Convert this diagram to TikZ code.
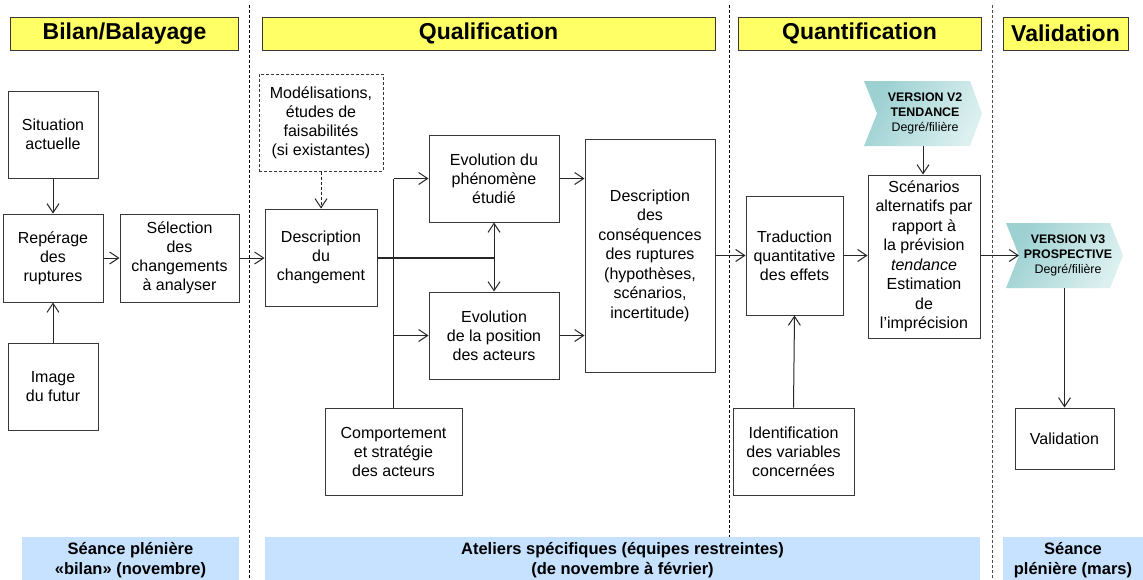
\documentclass[tikz,border=0pt]{standalone}
\usepackage{fontspec}
\setmainfont{Liberation Sans}
\usetikzlibrary{arrows.meta,calc}
\definecolor{hdryellow}{HTML}{FFFF66}
\definecolor{barblue}{HTML}{C6E2FF}
\definecolor{edgegray}{HTML}{383838}
\definecolor{chevteal}{HTML}{9CD0D1}
\definecolor{chevlight}{HTML}{DCF0F0}
\begin{document}
\begin{tikzpicture}[x=1pt,y=-1pt,
  every node/.style={font=\fontsize{16}{19}\selectfont, align=center, inner sep=0pt},
  box/.style={draw=edgegray, line width=1pt, fill=white},
  dbox/.style={draw=edgegray, line width=1pt, dashed, dash pattern=on 3pt off 2pt},
  hdr/.style={draw=edgegray, line width=1pt, fill=hdryellow, font=\fontsize{23}{26}\selectfont\bfseries},
  bar/.style={fill=barblue, font=\fontsize{16.5}{20.5}\selectfont\bfseries},
  chevtext/.style={font=\fontsize{12.4}{15}\selectfont},
  divider/.style={line width=0.9pt, dash pattern=on 3pt off 2pt, draw=black},
  conn/.style={line width=1pt, draw=black!85, -{Straight Barb[length=9pt,width=12pt]}},
  conn2/.style={line width=1pt, draw=black!85, {Straight Barb[length=9pt,width=12pt]}-{Straight Barb[length=9pt,width=12pt]}},
  plain/.style={line width=1pt, draw=black!85},
  thick2/.style={line width=2pt, draw=black!85},
  chev/.style={left color=chevteal, right color=chevlight, shading angle=60}
]
\useasboundingbox (0,0) rectangle (1143,579);
\fill[white] (0,0) rectangle (1143,579);

% dividers
\draw[divider] (249,5) -- (249,579);
\draw[divider] (729,5) -- (729,579);
\draw[divider, draw=black!70] (992,5) -- (992,579);

% headers
\node[hdr, minimum width=228, minimum height=33] (h1) at (124.5,33.5) {Bilan/Balayage};
\node[hdr, minimum width=453, minimum height=33] (h2) at (488.5,33.5) {Qualification};
\node[hdr, minimum width=243, minimum height=33] (h3) at (859.5,33.5) {Quantification};
\node[hdr, minimum width=125, minimum height=33] (h4) at (1065.5,33.5) {Validation};

% bottom bars
\fill[barblue] (22,537) rectangle (239,580);
\fill[barblue] (265,537) rectangle (980,580);
\fill[barblue] (1003,537) rectangle (1145,580);
\node[bar] (b1) at (130.5,560) {Séance plénière\\«bilan» (novembre)};
\node[bar] (b2) at (622.5,560) {Ateliers spécifiques (équipes restreintes)\\(de novembre à février)};
\node[bar] (b3) at (1073,560) {Séance\\plénière (mars)};

% boxes
\node[box, minimum width=90, minimum height=87] (sit) at (53,134.5) {Situation\\actuelle};
\node[box, minimum width=100, minimum height=88] (rep) at (53,258) {Repérage\\des\\ruptures};
\node[box, minimum width=119, minimum height=88] (sel) at (179.5,258) {Sélection\\des\\changements\\à analyser};
\node[box, minimum width=90, minimum height=87] (img) at (53,386.5) {Image\\du futur};
\node[dbox, minimum width=124, minimum height=97] (mod) at (321,122.5) {Modélisations,\\études de\\faisabilités\\(si existantes)};
\node[box, minimum width=112, minimum height=97] (desc) at (321,257.5) {Description\\du\\changement};
\node[box, minimum width=130, minimum height=87] (phe) at (494,178.5) {Evolution du\\phénomène\\étudié};
\node[box, minimum width=130, minimum height=87] (pos) at (494,335.5) {Evolution\\de la position\\des acteurs};
\node[box, minimum width=130, minimum height=233, font=\fontsize{16}{19.5}\selectfont] (cons) at (650,255.5) {Description\\des\\conséquences\\des ruptures\\(hypothèses,\\scénarios,\\incertitude)};
\node[box, minimum width=137, minimum height=87] (comp) at (393.5,451.5) {Comportement\\et stratégie\\des acteurs};
\node[box, minimum width=97, minimum height=119] (trad) at (794.5,255.5) {Traduction\\quantitative\\des effets};
\node[box, minimum width=121, minimum height=87] (ident) at (793.5,451.5) {Identification\\des variables\\concernées};
\node[box, minimum width=112, minimum height=163, font=\fontsize{16}{19.5}\selectfont] (scen) at (924,256.5) {Scénarios\\alternatifs par\\rapport à\\la prévision\\\textit{tendance}\\Estimation\\de\\l’imprécision};
\node[box, minimum width=99, minimum height=61] (val) at (1064.5,438.5) {Validation};

% chevrons
\shade[chev] (864,81) -- (970,81) -- (982,113.5) -- (970,146) -- (864,146) -- (877,113.5) -- cycle;
\node[chevtext] (v2) at (925,113.5) {\textbf{VERSION V2}\\\textbf{TENDANCE}\\Degré/filière};
\coordinate (v2s) at (923,146);
\shade[chev] (1006,223) -- (1110,223) -- (1123,255.5) -- (1110,288) -- (1006,288) -- (1019,255.5) -- cycle;
\node[chevtext] (v3) at (1068,255.5) {\textbf{VERSION V3}\\\textbf{PROSPECTIVE}\\Degré/filière};
\coordinate (v3w) at (1019,255.5);
\coordinate (v3s) at (1064.5,288);

% connectors
\draw[conn] (sit.south) -- (rep.north);
\draw[conn] (img.north) -- (rep.south);
\draw[conn] (rep.east) -- (sel.west);
\draw[conn] (sel.east) -- (sel.east -| desc.west);
\draw[conn, dashed, dash pattern=on 3pt off 2pt] (mod.south) -- (desc.north);
\coordinate (j) at (phe.south |- desc.east);
\draw[thick2] (desc.east) -- (j);
\draw[conn2] (phe.south) -- (pos.north);
\draw[plain] (comp.north) -- (comp.north |- phe.west);
\draw[conn] (comp.north |- phe.west) -- (phe.west);
\draw[conn] (comp.north |- pos.west) -- (pos.west);
\draw[conn] (phe.east) -- (phe.east -| cons.west);
\draw[conn] (pos.east) -- (pos.east -| cons.west);
\draw[conn] (cons.east) -- (trad.west);
\draw[conn] (trad.east) -- (trad.east -| scen.west);
\draw[conn] (ident.north) -- (trad.south);
\draw[conn] (v2s) -- (v2s |- scen.north);
\draw[conn] (scen.east |- v3w) -- (v3w);
\draw[conn] (v3s) -- (val.north);
\end{tikzpicture}
\end{document}
